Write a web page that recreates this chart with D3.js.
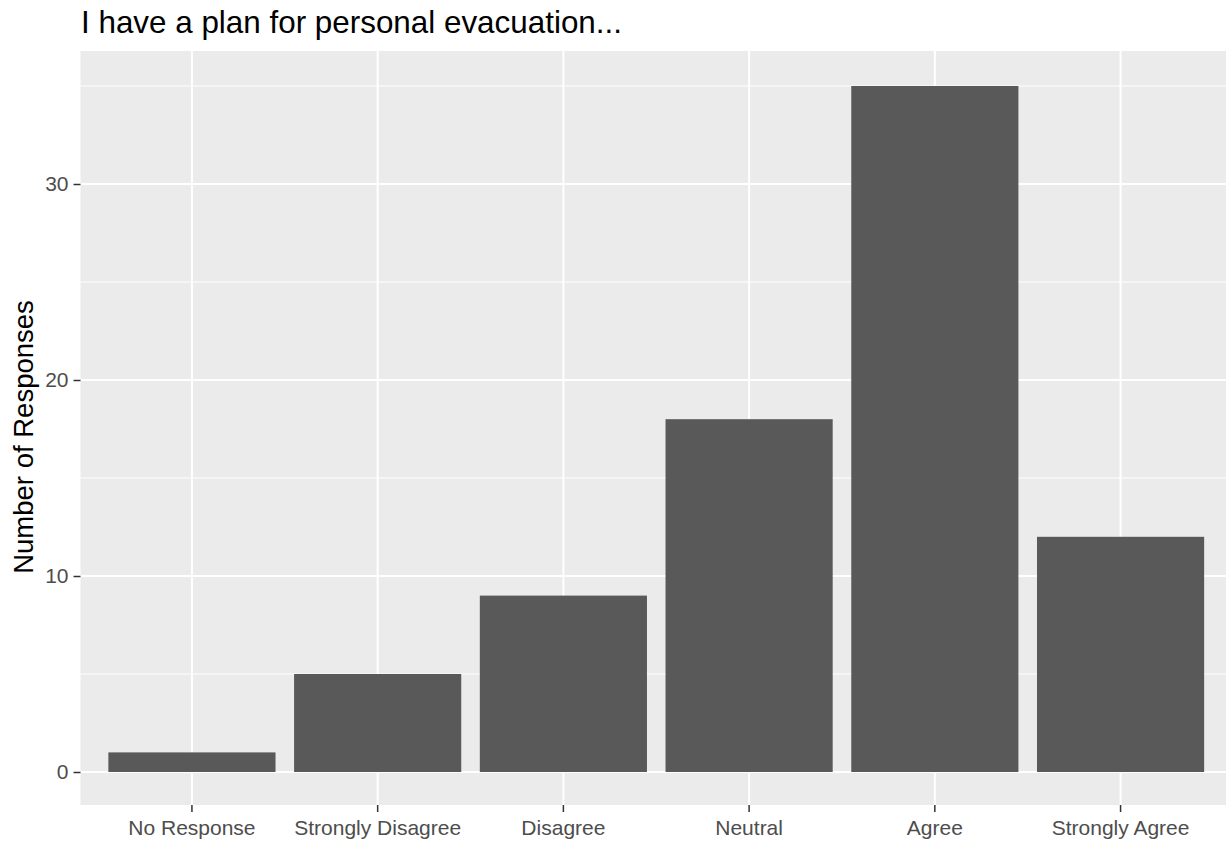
<!DOCTYPE html>
<html>
<head>
<meta charset="utf-8">
<script src="https://cdn.jsdelivr.net/npm/d3@7"></script>
<style>
  html, body { margin: 0; padding: 0; background: #fff; }
  svg { display: block; font-family: "Liberation Sans", Arial, sans-serif; }
</style>
</head>
<body>
<svg id="chart" width="1227" height="841"></svg>
<script>
const categories = ["No Response", "Strongly Disagree", "Disagree", "Neutral", "Agree", "Strongly Agree"];
const counts = [1, 5, 9, 18, 35, 12];
const majorTicks = [0, 10, 20, 30];
const minorTicks = [5, 15, 25, 35];
const title = "I have a plan for personal evacuation...";
const yTitle = "Number of Responses";

const svg = d3.select("#chart");
const panel = { left: 80.5, top: 51, right: 1226, bottom: 805 };

const yMax = d3.max(counts);
const y = d3.scaleLinear()
  .domain([0, yMax])
  .range([772, 86]);

const x = d3.scaleBand()
  .domain(categories)
  .range([panel.left, 1232])
  .paddingInner(0.1)
  .paddingOuter(0.15);

const cx = d => x(d) + x.bandwidth() / 2;

// panel background
svg.append("rect")
  .attr("x", panel.left).attr("y", panel.top)
  .attr("width", panel.right - panel.left)
  .attr("height", panel.bottom - panel.top)
  .attr("fill", "#EBEBEB");

const clip = svg.append("defs").append("clipPath").attr("id", "pclip");
clip.append("rect")
  .attr("x", panel.left).attr("y", panel.top)
  .attr("width", panel.right - panel.left)
  .attr("height", panel.bottom - panel.top);

const g = svg.append("g").attr("clip-path", "url(#pclip)");

// minor gridlines
g.selectAll(".ymin").data(minorTicks).enter().append("line")
  .attr("x1", panel.left).attr("x2", panel.right)
  .attr("y1", d => y(d)).attr("y2", d => y(d))
  .attr("stroke", "#fff").attr("stroke-width", 1);

// major gridlines
g.selectAll(".ymaj").data(majorTicks).enter().append("line")
  .attr("x1", panel.left).attr("x2", panel.right)
  .attr("y1", d => y(d)).attr("y2", d => y(d))
  .attr("stroke", "#fff").attr("stroke-width", 2);

g.selectAll(".xmaj").data(categories).enter().append("line")
  .attr("x1", d => cx(d)).attr("x2", d => cx(d))
  .attr("y1", panel.top).attr("y2", panel.bottom)
  .attr("stroke", "#fff").attr("stroke-width", 2);

// bars
g.selectAll(".bar").data(categories).enter().append("rect")
  .attr("x", d => x(d))
  .attr("width", x.bandwidth())
  .attr("y", (d, i) => y(counts[i]))
  .attr("height", (d, i) => y(0) - y(counts[i]))
  .attr("fill", "#595959");

// y axis
const yAxis = d3.axisLeft(y).tickValues(majorTicks).tickSize(7).tickPadding(5);
const ya = svg.append("g").attr("transform", `translate(${panel.left},0)`).call(yAxis);
ya.select(".domain").remove();
ya.selectAll(".tick line").attr("stroke", "#333333").attr("stroke-width", 1.5);
ya.selectAll(".tick text").attr("fill", "#4D4D4D").style("font-size", "21px")
  .style("font-family", '"Liberation Sans", Arial, sans-serif');

// x axis
const xAxis = d3.axisBottom(x).tickSize(7).tickPadding(8);
const xa = svg.append("g").attr("transform", `translate(0,${panel.bottom})`).call(xAxis);
xa.select(".domain").remove();
xa.selectAll(".tick line").attr("stroke", "#333333").attr("stroke-width", 1.5);
xa.selectAll(".tick text").attr("fill", "#4D4D4D").style("font-size", "21px")
  .style("font-family", '"Liberation Sans", Arial, sans-serif');

// title
svg.append("text")
  .attr("x", 81).attr("y", 33)
  .attr("fill", "#000")
  .style("font-size", "31.4px")
  .text(title);

// y axis title
svg.append("text")
  .attr("transform", `translate(33, ${(panel.top + panel.bottom) / 2 + 9}) rotate(-90)`)
  .attr("text-anchor", "middle")
  .attr("fill", "#000")
  .style("font-size", "27.5px")
  .text(yTitle);
</script>
</body>
</html>
